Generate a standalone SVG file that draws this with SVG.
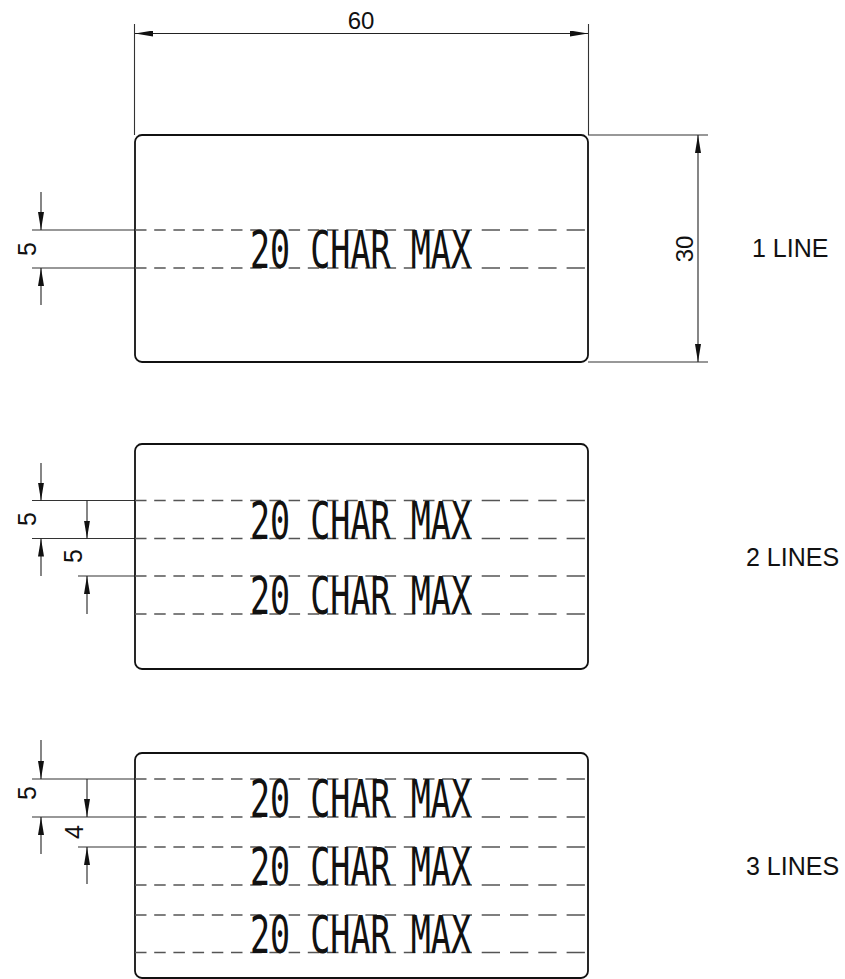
<svg xmlns="http://www.w3.org/2000/svg" width="845" height="979" viewBox="0 0 845 979">
<defs>
<marker id="arr" viewBox="0 0 18 6" refX="18" refY="3" markerWidth="18" markerHeight="6" markerUnits="userSpaceOnUse" orient="auto">
<path d="M0,0 L18,3 L0,6 Z" fill="#111"/>
</marker>
<marker id="arrS" viewBox="0 0 18 6" refX="0" refY="3" markerWidth="18" markerHeight="6" markerUnits="userSpaceOnUse" orient="auto">
<path d="M18,0 L0,3 L18,6 Z" fill="#111"/>
</marker>
</defs>
<style>
.box{fill:none;stroke:#111;stroke-width:1.8}
.ext{fill:none;stroke:#333;stroke-width:1.1}
.dim{fill:none;stroke:#222;stroke-width:1.1}
.dl{fill:none;stroke:#555;stroke-width:1.3;stroke-dasharray:11.5 7.7}
.dr{fill:none;stroke:#555;stroke-width:1.3;stroke-dasharray:18.3 10}
.lbl{font-family:"Liberation Sans",Arial,sans-serif;font-size:25px;fill:#111}
.dt{font-family:"Liberation Sans",Arial,sans-serif;font-size:24px;fill:#111}
.cm{font-family:"DejaVu Sans Mono","Liberation Mono",monospace;font-size:52px;fill:#111}
</style>

<g id="connectors">
<!-- top 60 dimension -->
<line class="ext" x1="134.5" y1="24" x2="134.5" y2="135"/>
<line class="ext" x1="588.5" y1="24" x2="588.5" y2="135"/>
<line class="dim" x1="135" y1="33.5" x2="588" y2="33.5" marker-start="url(#arrS)" marker-end="url(#arr)"/>
<!-- right 30 dimension -->
<line class="ext" x1="588" y1="135" x2="708" y2="135"/>
<line class="ext" x1="588" y1="362" x2="708" y2="362"/>
<line class="dim" x1="698" y1="135" x2="698" y2="362" marker-start="url(#arrS)" marker-end="url(#arr)"/>

<!-- box1 left dims -->
<line class="ext" x1="32" y1="230" x2="135" y2="230"/>
<line class="ext" x1="32" y1="268" x2="135" y2="268"/>
<line class="dim" x1="41" y1="192" x2="41" y2="230" marker-end="url(#arr)"/>
<line class="dim" x1="41" y1="305" x2="41" y2="268" marker-end="url(#arr)"/>

<!-- box2 left dims -->
<line class="ext" x1="32" y1="500.5" x2="135" y2="500.5"/>
<line class="ext" x1="32" y1="538.5" x2="135" y2="538.5"/>
<line class="ext" x1="78" y1="576" x2="135" y2="576"/>
<line class="dim" x1="41" y1="463" x2="41" y2="500.5" marker-end="url(#arr)"/>
<line class="dim" x1="41" y1="576" x2="41" y2="538.5" marker-end="url(#arr)"/>
<line class="dim" x1="87" y1="500.5" x2="87" y2="538.5" marker-end="url(#arr)"/>
<line class="dim" x1="87" y1="614" x2="87" y2="576" marker-end="url(#arr)"/>

<!-- box3 left dims -->
<line class="ext" x1="32" y1="779" x2="135" y2="779"/>
<line class="ext" x1="32" y1="817" x2="135" y2="817"/>
<line class="ext" x1="78" y1="847" x2="135" y2="847"/>
<line class="dim" x1="41" y1="740" x2="41" y2="779" marker-end="url(#arr)"/>
<line class="dim" x1="41" y1="854" x2="41" y2="817" marker-end="url(#arr)"/>
<line class="dim" x1="87" y1="779" x2="87" y2="817" marker-end="url(#arr)"/>
<line class="dim" x1="87" y1="884" x2="87" y2="847" marker-end="url(#arr)"/>
</g>

<g id="dim-texts">
<text class="dt" x="361" y="29" text-anchor="middle">60</text>
<text class="dt" transform="translate(693,249) rotate(-90)" text-anchor="middle">30</text>
<text class="lbl" transform="translate(36,249) rotate(-90)" text-anchor="middle">5</text>
<text class="lbl" transform="translate(36,519) rotate(-90)" text-anchor="middle">5</text>
<text class="lbl" transform="translate(81.5,556) rotate(-90)" text-anchor="middle">5</text>
<text class="lbl" transform="translate(36,793) rotate(-90)" text-anchor="middle">5</text>
<text class="lbl" transform="translate(82.5,832) rotate(-90)" text-anchor="middle">4</text>
</g>

<g id="box1">
<rect class="box" x="135" y="135" width="453" height="227" rx="7"/>
<path class="dl" d="M135,230 H472 M135,268 H472"/>
<path class="dr" d="M481.7,230 H588 M481.7,268 H588"/>
<text class="cm" x="250" y="268" textLength="221" lengthAdjust="spacingAndGlyphs">20 CHAR MAX</text>
<text class="lbl" x="752" y="257">1 LINE</text>
</g>

<g id="box2">
<rect class="box" x="135" y="444" width="453" height="225" rx="7"/>
<path class="dl" d="M135,500.5 H472 M135,538.5 H472 M135,576 H472 M135,614 H472"/>
<path class="dr" d="M481.7,500.5 H588 M481.7,538.5 H588 M481.7,576 H588 M481.7,614 H588"/>
<text class="cm" x="250" y="538.5" textLength="221" lengthAdjust="spacingAndGlyphs">20 CHAR MAX</text>
<text class="cm" x="250" y="614" textLength="221" lengthAdjust="spacingAndGlyphs">20 CHAR MAX</text>
<text class="lbl" x="746" y="566">2 LINES</text>
</g>

<g id="box3">
<rect class="box" x="135" y="753" width="453" height="225" rx="7"/>
<path class="dl" d="M135,779 H472 M135,817 H472 M135,847 H472 M135,885 H472 M135,915 H472 M135,952.5 H472"/>
<path class="dr" d="M481.7,779 H588 M481.7,817 H588 M481.7,847 H588 M481.7,885 H588 M481.7,915 H588 M481.7,952.5 H588"/>
<text class="cm" x="250" y="817" textLength="221" lengthAdjust="spacingAndGlyphs">20 CHAR MAX</text>
<text class="cm" x="250" y="885" textLength="221" lengthAdjust="spacingAndGlyphs">20 CHAR MAX</text>
<text class="cm" x="250" y="952.5" textLength="221" lengthAdjust="spacingAndGlyphs">20 CHAR MAX</text>
<text class="lbl" x="746" y="875">3 LINES</text>
</g>
</svg>
